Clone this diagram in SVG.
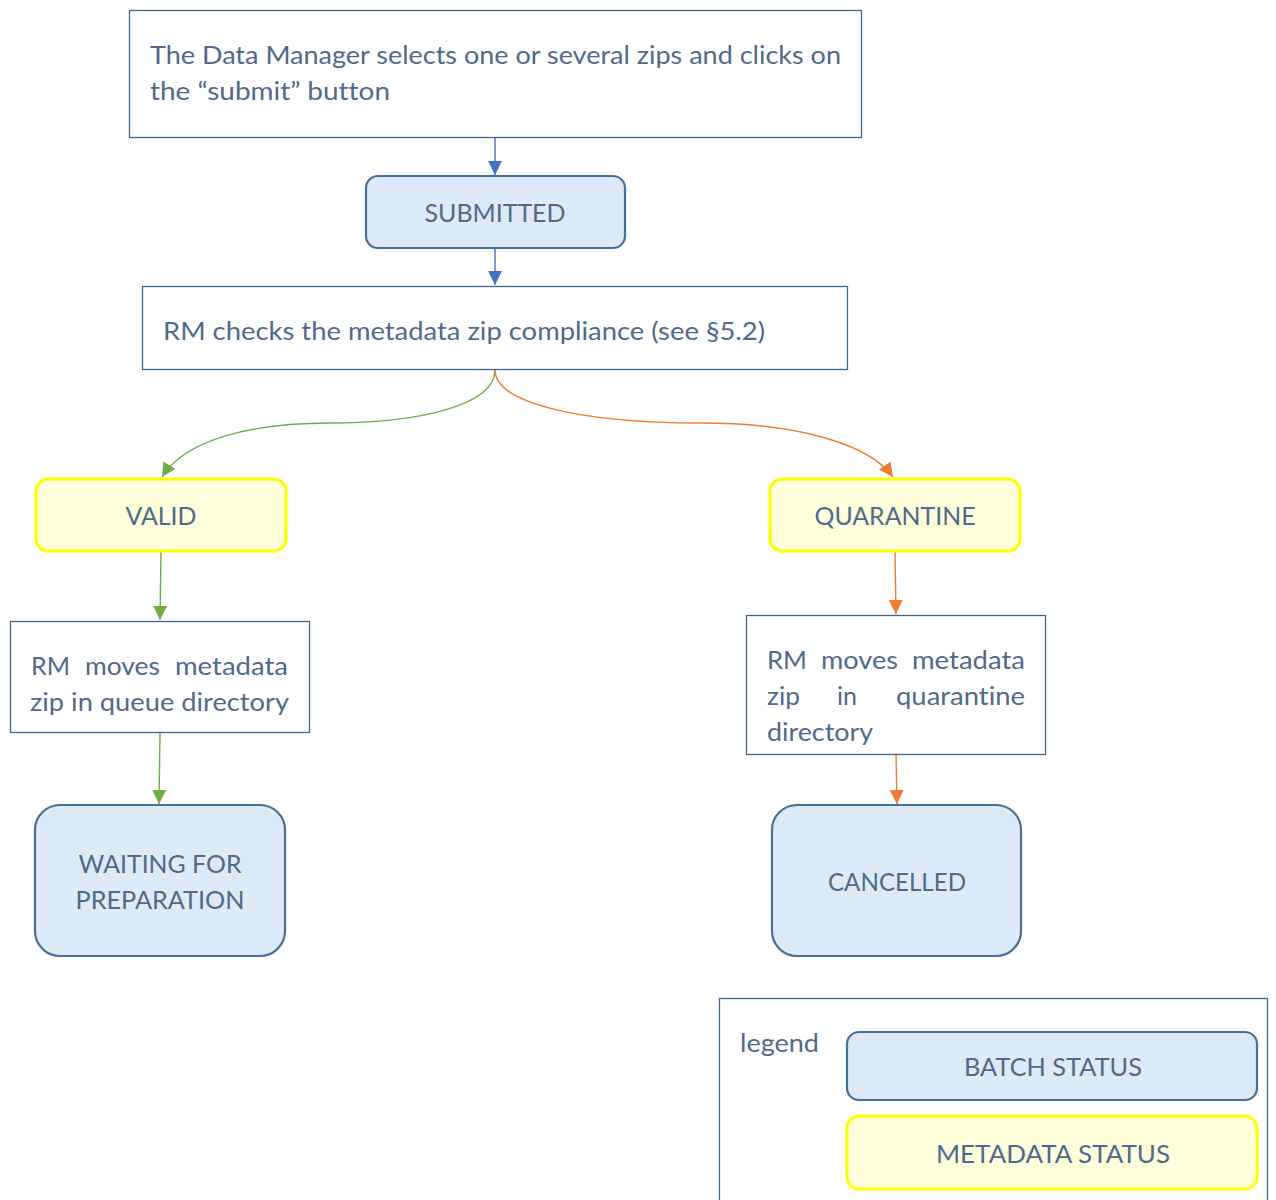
<svg xmlns="http://www.w3.org/2000/svg" width="1276" height="1200" viewBox="0 0 1276 1200">
<defs>
<style>
text{font-family:Lato,"Open Sans","Liberation Sans",sans-serif;font-size:25px;fill:#4F6A8B;font-variant-ligatures:none;font-feature-settings:"liga" 0;}
.c{text-anchor:middle;}
.box{fill:#FFFFFF;stroke:#41658F;stroke-width:1.3;}
.batch{fill:#DEEAF6;stroke:#41719C;stroke-width:2.2;}
.meta{fill:#FFFFDB;stroke:#FFFF00;stroke-width:3;}
.blue{fill:none;stroke:#4472C4;stroke-width:1.4;marker-end:url(#ab);}
.green{fill:none;stroke:#70AD47;stroke-width:1.4;marker-end:url(#ag);}
.orange{fill:none;stroke:#ED7D31;stroke-width:1.4;marker-end:url(#ao);}
</style>
<marker id="ab" viewBox="0 0 14 14" refX="14" refY="7" markerWidth="14" markerHeight="14" markerUnits="userSpaceOnUse" orient="auto"><path d="M0,0 L14,7 L0,14 Z" fill="#4472C4"/></marker>
<marker id="ag" viewBox="0 0 14 14" refX="14" refY="7" markerWidth="14" markerHeight="14" markerUnits="userSpaceOnUse" orient="auto"><path d="M0,0 L14,7 L0,14 Z" fill="#70AD47"/></marker>
<marker id="ao" viewBox="0 0 14 14" refX="14" refY="7" markerWidth="14" markerHeight="14" markerUnits="userSpaceOnUse" orient="auto"><path d="M0,0 L14,7 L0,14 Z" fill="#ED7D31"/></marker>
</defs>
<rect width="1276" height="1200" fill="#FFFFFF"/>

<g id="connectors">
<path class="blue" d="M495,137 L495,175"/>
<path class="blue" d="M495,248 L495,285"/>
<path class="green" d="M495,370 C495,405 420,423 330,423 C250,423 185,440 162,477"/>
<path class="orange" d="M495,370 C495,403 580,423 700,423 C800,423 870,445 893,477"/>
<path class="green" d="M161,551 L160,620"/>
<path class="green" d="M160,733 L159,804"/>
<path class="orange" d="M895,551 L896,614"/>
<path class="orange" d="M896,754 L897,804"/>
</g>

<g id="n-start">
<rect class="box" x="129.5" y="10.5" width="732" height="127"/>
<text x="150" y="64" textLength="691" lengthAdjust="spacingAndGlyphs">The Data Manager selects one or several zips and clicks on</text>
<text x="150" y="100" textLength="240" lengthAdjust="spacingAndGlyphs">the “submit” button</text>
</g>

<g id="n-submitted">
<rect class="batch" x="366" y="176" width="259" height="72" rx="12"/>
<text class="c" x="495" y="222" textLength="141" lengthAdjust="spacingAndGlyphs">SUBMITTED</text>
</g>

<g id="n-check">
<rect class="box" x="142.5" y="286.5" width="705" height="83"/>
<text x="163" y="340" textLength="602" lengthAdjust="spacingAndGlyphs">RM checks the metadata zip compliance (see §5.2)</text>
</g>

<g id="n-valid">
<rect class="meta" x="36" y="479" width="250" height="72" rx="12"/>
<text class="c" x="161" y="525" textLength="71" lengthAdjust="spacingAndGlyphs">VALID</text>
</g>

<g id="n-queue">
<rect class="box" x="10.5" y="621.5" width="299" height="111"/>
<text x="31" y="675" textLength="39" lengthAdjust="spacingAndGlyphs">RM</text>
<text x="85" y="675" textLength="75" lengthAdjust="spacingAndGlyphs">moves</text>
<text x="175" y="675" textLength="113" lengthAdjust="spacingAndGlyphs">metadata</text>
<text x="30" y="711" textLength="259" lengthAdjust="spacingAndGlyphs">zip in queue directory</text>
</g>

<g id="n-waiting">
<rect class="batch" x="35" y="805" width="250" height="151" rx="25"/>
<text class="c" x="160" y="873" textLength="163" lengthAdjust="spacingAndGlyphs">WAITING FOR</text>
<text class="c" x="160" y="909" textLength="169" lengthAdjust="spacingAndGlyphs">PREPARATION</text>
</g>

<g id="n-quarantine">
<rect class="meta" x="770" y="479" width="250" height="72" rx="12"/>
<text class="c" x="895" y="525" textLength="161" lengthAdjust="spacingAndGlyphs">QUARANTINE</text>
</g>

<g id="n-qdir">
<rect class="box" x="746.5" y="615.5" width="299" height="139"/>
<text x="767" y="669" textLength="40" lengthAdjust="spacingAndGlyphs">RM</text>
<text x="821" y="669" textLength="77" lengthAdjust="spacingAndGlyphs">moves</text>
<text x="912" y="669" textLength="113" lengthAdjust="spacingAndGlyphs">metadata</text>
<text x="767" y="705" textLength="33" lengthAdjust="spacingAndGlyphs">zip</text>
<text x="837" y="705" textLength="20" lengthAdjust="spacingAndGlyphs">in</text>
<text x="896" y="705" textLength="129" lengthAdjust="spacingAndGlyphs">quarantine</text>
<text x="767" y="741" textLength="106" lengthAdjust="spacingAndGlyphs">directory</text>
</g>

<g id="n-cancelled">
<rect class="batch" x="772" y="805" width="249" height="151" rx="25"/>
<text class="c" x="897" y="891" textLength="138" lengthAdjust="spacingAndGlyphs">CANCELLED</text>
</g>

<g id="legend">
<rect class="box" x="719.5" y="998.5" width="548" height="215"/>
<text x="740" y="1052" textLength="79" lengthAdjust="spacingAndGlyphs">legend</text>
<rect class="batch" x="847" y="1032" width="410" height="68" rx="12"/>
<text class="c" x="1053" y="1076" textLength="178" lengthAdjust="spacingAndGlyphs">BATCH STATUS</text>
<rect class="meta" x="847" y="1116" width="410" height="73" rx="12"/>
<text class="c" x="1053" y="1163" textLength="234" lengthAdjust="spacingAndGlyphs">METADATA STATUS</text>
</g>
</svg>
